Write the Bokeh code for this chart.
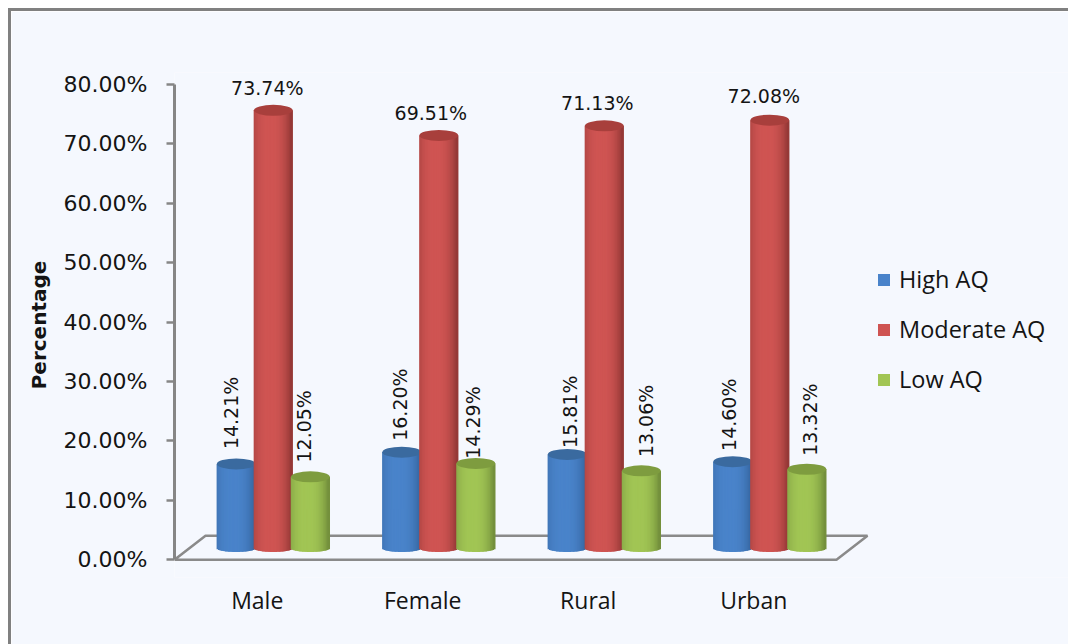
import math
from bokeh.plotting import figure
from bokeh.models import Range1d, FixedTicker, Legend, LegendItem, ColumnDataSource
from bokeh.core.properties import value
from bokeh.embed import file_html
from bokeh.resources import INLINE

categories = ["Male", "Female", "Rural", "Urban"]
high_aq = [14.21, 16.20, 15.81, 14.60]
moderate_aq = [73.74, 69.51, 71.13, 72.08]
low_aq = [12.05, 14.29, 13.06, 13.32]
y_ticks = [0, 10, 20, 30, 40, 50, 60, 70, 80]
y_tick_labels = ["0.00%", "10.00%", "20.00%", "30.00%", "40.00%", "50.00%", "60.00%", "70.00%", "80.00%"]

# hand-placed data label offsets of the original: (pixels sideways from the cylinder, value units above the bar)
high_label_shift = [(-5, 10.5), (-2, 9.9), (3, 9.1), (-4, 9.8)]
moderate_label_shift = [(-6, 5.6), (-8, 5.6), (-7, 5.8), (-6, 5.9)]
low_label_shift = [(-6, 10.4), (-3, 8.8), (5, 10.3), (3, 10.25)]

series = [
    ("High AQ", high_aq, high_label_shift, (0x4A, 0x84, 0xCB), (0x36, 0x65, 0xA0), "#3A6A9F", -0.224),
    ("Moderate AQ", moderate_aq, moderate_label_shift, (0xD0, 0x55, 0x53), (0x90, 0x36, 0x34), "#A83F3C", 0.0),
    ("Low AQ", low_aq, low_label_shift, (0xA2, 0xC6, 0x55), (0x70, 0x8C, 0x3A), "#7E9C3F", 0.224),
]

p = figure(
    width=1060, height=636, output_backend="svg", toolbar_location=None,
    x_range=Range1d(-0.5, 4.92), y_range=Range1d(-3, 82),
    min_border_left=163, min_border_right=0, min_border_top=61, min_border_bottom=70,
    background_fill_color="#F5F8FE", border_fill_color="#F5F8FE", outline_line_color=None,
)
p.styles = {"margin": "8px 0 0 8px", "border-left": "3px solid #808080", "border-top": "3px solid #808080"}
p.xgrid.visible = False
p.ygrid.visible = False

# floor of the 3D chart
depth_x, depth_y = 31 / 165.5, 4.04
floor_left, floor_right = -0.5, 3.5
floor_color = "#8A8A8A"
p.line([floor_left, floor_right, floor_right + depth_x, floor_left + depth_x, floor_left],
       [0, 0, depth_y, depth_y, 0], line_color=floor_color, line_width=2.5)

# cylinders: vertical strips shaded across the width
bar_w = 38 / 165.5
group_dx = 0.097
base = 1.9
cap_h = 1.85
bottom_h = 0.6
N = 27
renderers = []
for name, vals, shift, light, dark, cap, dx in series:
    xs, bots, tops, cols = [], [], [], []
    for i, v in enumerate(vals):
        cx = i + group_dx + dx
        for k in range(N):
            u = (k + 0.5) / N * 2 - 1
            c = math.sqrt(max(1 - u * u, 0))
            d = abs(u + 0.15) / 1.15
            t = min(d ** 2.6, 1)
            col = tuple(int(light[j] + (dark[j] - light[j]) * t) for j in range(3))
            xs.append(cx + u * bar_w / 2)
            bots.append(base - bottom_h * c)
            tops.append(v + base)
            cols.append("#%02X%02X%02X" % col)
    src = ColumnDataSource(dict(x=xs, bottom=bots, top=tops, color=cols))
    r = p.vbar(x="x", bottom="bottom", top="top", width=bar_w / N * 1.9, source=src,
               fill_color="color", line_color=None)
    renderers.append(r)
    p.ellipse(x=[i + group_dx + dx for i in range(4)], y=[v + base for v in vals],
              width=bar_w * 1.02, height=cap_h, fill_color=cap, line_color=None)

label_font = value("DejaVu Sans")
for name, vals, shift, light, dark, cap, dx in series:
    horizontal = name == "Moderate AQ"
    p.text(x=[i + group_dx + dx + shift[i][0] / 165.5 for i in range(4)],
           y=[v + shift[i][1] for i, v in enumerate(vals)],
           text=[f"{v:.2f}%" for v in vals],
           angle=0 if horizontal else math.pi / 2,
           text_align="center", text_baseline="middle", text_font=label_font,
           text_font_size="19px", text_color="#141414")

# axes
ya = p.yaxis[0]
ya.bounds = (0, 80)
ya.ticker = FixedTicker(ticks=y_ticks)
ya.major_label_overrides = dict(zip(y_ticks, y_tick_labels))
ya.axis_line_color = "#868686"
ya.axis_line_width = 3
ya.major_tick_line_color = "#868686"
ya.major_tick_line_width = 2.5
ya.major_tick_in = 0
ya.major_tick_out = 8
ya.minor_tick_line_color = None
ya.major_label_standoff = 19
ya.major_label_text_font = "DejaVu Sans"
ya.major_label_text_font_size = "22px"
ya.major_label_text_color = "#141414"
ya.axis_label = "Percentage"
ya.axis_label_text_font = "DejaVu Sans"
ya.axis_label_text_font_style = "bold"
ya.axis_label_text_font_size = "20px"
ya.axis_label_text_color = "#141414"
ya.axis_label_standoff = 10

xa = p.xaxis[0]
xa.ticker = FixedTicker(ticks=list(range(4)))
xa.major_label_overrides = dict(enumerate(categories))
xa.axis_line_color = None
xa.major_tick_line_color = None
xa.minor_tick_line_color = None
xa.major_label_standoff = 0
xa.major_label_text_font = "Open Sans"
xa.major_label_text_font_size = "23px"
xa.major_label_text_color = "#141414"

legend = Legend(
    items=[LegendItem(label=s[0], renderers=[r], index=N // 2) for s, r in zip(series, renderers)],
    location=(702, 182), orientation="vertical",
    glyph_width=15, glyph_height=15, label_standoff=8, spacing=18,
    padding=0, margin=0, border_line_color=None, background_fill_alpha=0,
    label_text_font="Open Sans", label_text_font_size="23.5px", label_text_color="#141414",
)
p.add_layout(legend, "center")

open("out.html", "w").write(file_html(p, INLINE))
